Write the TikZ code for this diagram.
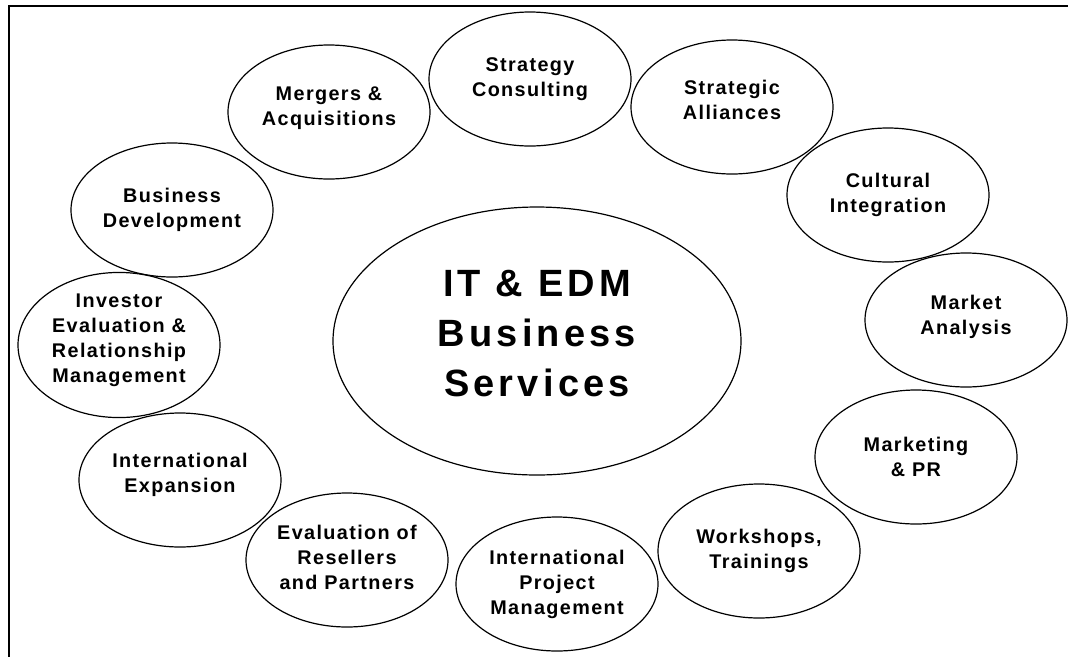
\documentclass[tikz,border=0pt]{standalone}
\usepackage{fontspec}
\setmainfont{Liberation Sans}[LetterSpace=7]
\newfontfamily\bigfont{Liberation Sans}[LetterSpace=11]
\usetikzlibrary{shapes.geometric}

\begin{document}
\begin{tikzpicture}[x=1pt, y=-1pt,
		bubble/.style={ellipse, draw, line width=1.2pt, inner sep=0pt,
		minimum width=202pt, minimum height=134pt, align=center,
		font=\fontsize{19.8}{25}\selectfont\bfseries},
		bigbubble/.style={bubble, minimum width=408pt, minimum height=268pt,
		font=\bigfont\fontsize{38}{50}\selectfont\bfseries}
		]
		\useasboundingbox (0,0) rectangle (1068,657);
		\draw[line width=2.5pt] (1068,6) -- (9,6) -- (9,657);

		\node[bigbubble, text depth=16pt](S0) at (537,341){IT \& EDM\\Business\\Services};

		\node[bubble](S1) at (530,79){Strategy\\Consulting};
		\node[bubble, text depth=14pt](S2) at (732,107){Strategic\\Alliances};
		\node[bubble](S3) at (888,195){Cultural\\Integration};
		\node[bubble, text depth=10pt](S4) at (966,320){Market\\Analysis};
		\node[bubble](S5) at (916,457){Marketing\\\& PR};
		\node[bubble](S6) at (759,551){Workshops,\\Trainings};
		\node[bubble](S7) at (557,584){International\\Project\\Management};
		\node[bubble, text depth=6pt](S8) at (347,560){Evaluation of\\Resellers\\and Partners};
		\node[bubble, text depth=14pt](S9) at (180,480){International\\Expansion};
		\node[bubble, text depth=14pt](S10) at (119,345){Investor\\Evaluation \&\\Relationship\\Management};
		\node[bubble](S11) at (172,210){Business\\Development};
		\node[bubble, text depth=12pt](S12) at (329,112){Mergers \&\\Acquisitions};

	\end{tikzpicture}
\end{document}
